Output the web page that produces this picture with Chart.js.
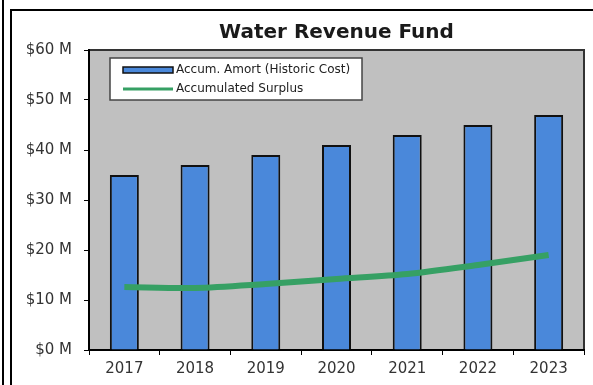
<!DOCTYPE html>
<html><head><meta charset="utf-8">
<script src="https://cdn.jsdelivr.net/npm/chart.js@4.4.0/dist/chart.umd.min.js"></script>
<style>html,body{margin:0;padding:0;background:#fff}#wrap{width:593px;height:385px}</style>
</head><body><div id="wrap"><canvas id="c" width="593" height="385"></canvas></div>
<script>
const categories = ['2017','2018','2019','2020','2021','2022','2023'];
const amortValues = [35, 37, 39, 41, 43, 45, 47];
const surplusValues = [12.6, 12.4, 13.2, 14.2, 15.2, 17.0, 19.0];
const seriesNames = ['Accum. Amort (Historic Cost)', 'Accumulated Surplus'];
const titleText = 'Water Revenue Fund';
const FONT = "'DejaVu Sans', sans-serif";

const framePlugin = {
  id: 'frame',
  beforeDraw(chart) {
    const ctx = chart.ctx, a = chart.chartArea;
    ctx.save();
    ctx.fillStyle = '#fff';
    ctx.fillRect(0, 0, chart.width, chart.height);
    ctx.strokeStyle = '#000';
    ctx.lineWidth = 2;
    ctx.beginPath();
    ctx.moveTo(3, 0); ctx.lineTo(3, chart.height);
    ctx.moveTo(11, 385); ctx.lineTo(11, 10); ctx.lineTo(chart.width, 10);
    ctx.stroke();
    ctx.fillStyle = '#c0c0c0';
    ctx.fillRect(a.left, a.top, a.right - a.left, a.bottom - a.top);
    ctx.strokeStyle = '#333';
    ctx.lineWidth = 2;
    ctx.strokeRect(a.left, a.top, a.right - a.left, a.bottom - a.top);
    ctx.restore();
  },
  afterDraw(chart) {
    const ctx = chart.ctx;
    const ds = chart.data.datasets;
    ctx.save();
    ctx.fillStyle = '#fff';
    ctx.fillRect(110, 58, 252, 42);
    ctx.strokeStyle = '#444';
    ctx.lineWidth = 1.5;
    ctx.strokeRect(110, 58, 252, 42);
    ctx.fillStyle = ds[0].backgroundColor;
    ctx.fillRect(123, 67, 50, 6);
    ctx.strokeStyle = '#111';
    ctx.lineWidth = 1.5;
    ctx.strokeRect(123, 67, 50, 6);
    ctx.strokeStyle = ds[1].borderColor;
    ctx.lineWidth = 3;
    ctx.beginPath(); ctx.moveTo(123, 89); ctx.lineTo(173, 89); ctx.stroke();
    ctx.fillStyle = '#222';
    ctx.font = "12px " + FONT;
    ctx.textBaseline = 'middle';
    ctx.fillText(ds[0].label, 176, 70);
    ctx.fillText(ds[1].label, 176, 89);
    ctx.restore();
  }
};

new Chart(document.getElementById('c'), {
  data: {
    labels: categories,
    datasets: [
      { type: 'bar', label: seriesNames[0], data: amortValues, backgroundColor: '#4a88da',
        borderColor: '#111', borderWidth: 2, barPercentage: 0.41, categoryPercentage: 1, order: 1 },
      { type: 'line', label: seriesNames[1], data: surplusValues, borderColor: '#36a064',
        borderWidth: 6, pointRadius: 0, tension: 0.3, order: 0 }
    ]
  },
  options: {
    responsive: false,
    animation: false,
    layout: { padding: { left: 11, right: 9, top: 0, bottom: 0 } },
    plugins: {
      legend: { display: false },
      tooltip: { enabled: false },
      title: { display: true, text: titleText, fullSize: false, color: '#1a1a1a',
        font: { family: FONT, size: 20, weight: 'bold' }, padding: { top: 21, bottom: 5 } }
    },
    scales: {
      x: {
        offset: true,
        grid: { offset: true, drawOnChartArea: false, tickLength: 5, color: '#000', tickWidth: 1 },
        border: { color: '#000', width: 2 },
        ticks: { color: '#333', font: { family: FONT, size: 15 }, padding: 5, maxRotation: 0 },
        afterFit(s) { s.height = 35; }
      },
      y: {
        min: 0, max: 60,
        grid: { drawOnChartArea: false, tickLength: 5, color: '#000' },
        border: { color: '#000', width: 2 },
        ticks: { stepSize: 10, color: '#333', font: { family: FONT, size: 15 }, padding: 12,
          callback: v => '$' + v + ' M' },
        afterFit(s) { s.width = 78; }
      }
    }
  },
  plugins: [framePlugin]
});
</script></body></html>
